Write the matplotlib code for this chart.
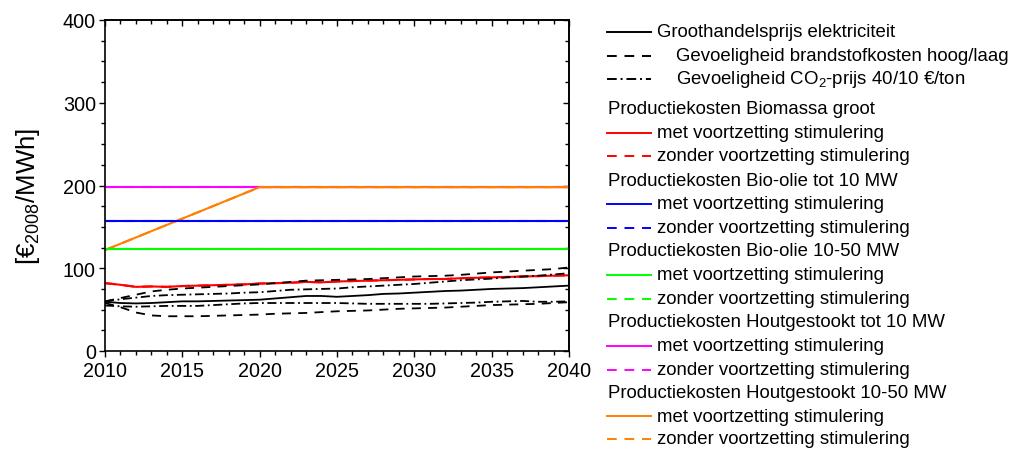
import matplotlib
matplotlib.use("Agg")
import matplotlib.pyplot as plt
from matplotlib.lines import Line2D
from matplotlib.ticker import MultipleLocator, NullFormatter

plt.rcParams['font.family'] = ['Liberation Sans', 'DejaVu Sans']
plt.rcParams['mathtext.fontset'] = 'custom'
plt.rcParams['mathtext.rm'] = 'Liberation Sans'
plt.rcParams['mathtext.it'] = 'Liberation Sans'

years = list(range(2010, 2041))

groothandel = [59.5, 58, 57.5, 58, 59, 60, 60, 60.5, 61, 61.5, 62, 63.5, 65, 66.5, 66.5,
               65.5, 66.5, 67.5, 69, 69.5, 70.5, 71.5, 72.5, 73, 74, 75, 75.5, 76, 77, 78, 79]
brandstof_hoog = [60, 64, 68, 72, 74, 75.5, 76.5, 77.5, 78.5, 79.5, 80.5, 82, 83.5, 85, 85.5,
                  86, 86.5, 87, 88, 89, 90, 90.5, 91, 92, 93.5, 95, 96, 97, 98, 99, 101]
brandstof_laag = [58, 53, 46.5, 43, 42, 42, 42, 42.5, 43, 43.5, 44, 45, 45.5, 46, 47,
                  48, 48.5, 49, 50, 51, 51.5, 52, 52.5, 53.5, 54.5, 55.5, 56, 56.5, 57, 58, 59]
co2_hoog = [60, 62.5, 64.5, 66.5, 67.5, 68, 68.5, 69, 69.5, 70.5, 71, 72.5, 74, 74.5, 75,
            75.5, 77, 78, 79, 80, 81, 82.5, 84, 85.5, 86.5, 87.5, 89, 90, 91, 92.5, 94]
co2_laag = [55, 54, 53.5, 54, 54.5, 54.5, 54.5, 55.5, 56.5, 57.5, 58, 58, 58, 58, 58,
            58, 57.5, 57, 57, 57, 57, 57, 57.5, 58, 58.5, 59.5, 60, 60.5, 59.5, 59.5, 60]
biomassa_groot = [82, 80, 77.5, 78, 77.5, 78.5, 79, 79.5, 80, 80.5, 81.5, 82, 82.5, 83.5, 83,
                  84, 84.5, 85, 85.5, 86, 86.5, 87, 87, 88, 88.5, 89, 89.5, 90, 90.5, 91, 91.5]

flat_years = [2010, 2040]
bio_olie_10 = [157, 157]
bio_olie_10_50 = [123, 123]
hout_10 = [198, 198]
hout_years = [2010, 2020, 2040]
hout_10_50 = [122, 198, 198]

RED, BLUE, GREEN, MAGENTA, ORANGE = '#FF0000', '#0000FF', '#00FF00', '#FF00FF', '#FF8000'
DASH = (0, (5, 4))
DASHDOT = (0, (5, 2, 1, 2))

fig = plt.figure(figsize=(10.22, 4.52), dpi=100)
ax = fig.add_axes([105 / 1022, 1 - 352 / 452, 464 / 1022, 331 / 452])

# Production costs (solid = with subsidy, dashed = without)
cost_series = [
    (flat_years, hout_10, MAGENTA),
    (hout_years, hout_10_50, ORANGE),
    (flat_years, bio_olie_10, BLUE),
    (flat_years, bio_olie_10_50, GREEN),
]
for xs, ys, c in cost_series:
    ax.plot(xs, ys, color=c, lw=1.5, solid_capstyle='butt')
    ax.plot(xs, ys, color=c, lw=1.5, linestyle=DASH)

ax.plot(years, biomassa_groot, color=RED, lw=1.5)
ax.plot(years, biomassa_groot, color=RED, lw=1.5, linestyle=DASH)

ax.plot(years, brandstof_hoog, color='black', lw=1.3, linestyle=DASH)
ax.plot(years, brandstof_laag, color='black', lw=1.3, linestyle=DASH)
ax.plot(years, co2_hoog, color='black', lw=1.3, linestyle=DASHDOT)
ax.plot(years, co2_laag, color='black', lw=1.3, linestyle=DASHDOT)
ax.plot(years, groothandel, color='black', lw=1.3)

ax.set_xlim(2010, 2040)
ax.set_ylim(0, 400)
ax.xaxis.set_major_locator(MultipleLocator(5))
ax.xaxis.set_minor_locator(MultipleLocator(1))
ax.yaxis.set_major_locator(MultipleLocator(100))
ax.yaxis.set_minor_locator(MultipleLocator(25))
ax.tick_params(which='major', direction='out', length=4.5, width=1, labelsize=14.2)
ax.tick_params(axis='x', which='major', pad=3)
ax.tick_params(axis='y', which='major', pad=2)
ax.tick_params(which='minor', direction='out', length=2.6, width=1)
for s in ax.spines.values():
    s.set_linewidth(1.2)

# Inward ticks on the top and right frame edges
top = ax.secondary_xaxis('top')
right = ax.secondary_yaxis('right')
for sec, loc_major, loc_minor in ((top, 5, 1), (right, 100, 25)):
    axis = sec.xaxis if sec is top else sec.yaxis
    axis.set_major_locator(MultipleLocator(loc_major))
    axis.set_minor_locator(MultipleLocator(loc_minor))
    axis.set_major_formatter(NullFormatter())
    sec.tick_params(which='major', direction='in', length=4.5, width=1)
    sec.tick_params(which='minor', direction='in', length=2.6, width=1)
    for s in sec.spines.values():
        s.set_linewidth(1.2)

ax.set_ylabel(r'[€$_{2008}$/MWh]', fontsize=18.5)
ax.yaxis.set_label_coords(-0.136, 0.47)

# Legend drawn in figure pixel coordinates
def px(x, y):
    return x / 1022, 1 - y / 452

legend_rows = [
    ('line', 'black', '-', 'Groothandelsprijs elektriciteit', 657, 32.5),
    ('line', 'black', DASH, 'Gevoeligheid brandstofkosten hoog/laag', 676, 56.5),
    ('line', 'black', DASHDOT, r'Gevoeligheid CO$_2$-prijs 40/10 €/ton', 676, 80),
    ('title', None, None, 'Productiekosten Biomassa groot', 608, 110),
    ('line', RED, '-', 'met voortzetting stimulering', 657, 134),
    ('line', RED, DASH, 'zonder voortzetting stimulering', 657, 157),
    ('title', None, None, 'Productiekosten Bio-olie tot 10 MW', 608, 181),
    ('line', BLUE, '-', 'met voortzetting stimulering', 657, 204.5),
    ('line', BLUE, DASH, 'zonder voortzetting stimulering', 657, 228.5),
    ('title', None, None, 'Productiekosten Bio-olie 10-50 MW', 608, 252),
    ('line', GREEN, '-', 'met voortzetting stimulering', 657, 276),
    ('line', GREEN, DASH, 'zonder voortzetting stimulering', 657, 299.5),
    ('title', None, None, 'Productiekosten Houtgestookt tot 10 MW', 608, 323),
    ('line', MAGENTA, '-', 'met voortzetting stimulering', 657, 346.5),
    ('line', MAGENTA, DASH, 'zonder voortzetting stimulering', 657, 370.5),
    ('title', None, None, 'Productiekosten Houtgestookt 10-50 MW', 608, 393.5),
    ('line', ORANGE, '-', 'met voortzetting stimulering', 657, 417),
    ('line', ORANGE, DASH, 'zonder voortzetting stimulering', 657, 440),
]
for kind, color, ls, label, tx, ty in legend_rows:
    if kind == 'line':
        (x0, y0), (x1, _) = px(607, ty), px(651, ty)
        fig.add_artist(Line2D([x0, x1], [y0, y0], color=color, linestyle=ls, lw=1.4,
                              transform=fig.transFigure))
    fx, fy = px(tx, ty)
    fig.text(fx, fy, label, fontsize=13.4, va='center', ha='left')

fig.savefig('out.png', dpi=100)
